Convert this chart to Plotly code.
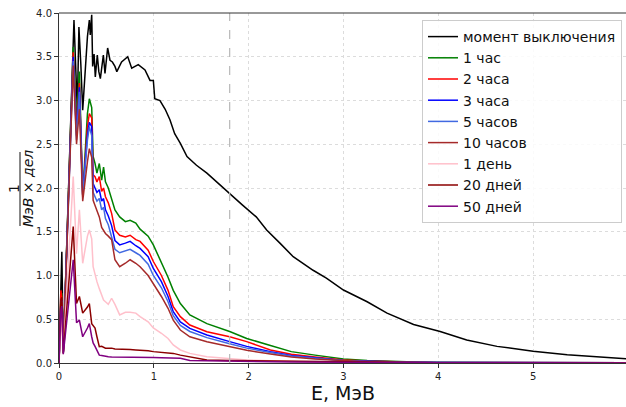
import plotly.graph_objects as go

# ---------------- data ----------------
E_black = [0.00, 0.03, 0.045, 0.158, 0.193, 0.21, 0.23, 0.25, 0.30, 0.32, 0.33, 0.345, 0.355,
           0.37, 0.383, 0.404, 0.42, 0.436, 0.468, 0.485, 0.513, 0.538, 0.563, 0.59, 0.61,
           0.66, 0.725, 0.767, 0.836, 0.907, 0.96, 0.995, 1.01, 1.065, 1.12, 1.17, 1.22,
           1.28, 1.35, 1.45, 1.56, 1.66, 1.80, 1.93, 2.08, 2.19, 2.33, 2.47, 2.68, 2.82,
           3.00, 3.25, 3.46, 3.74, 4.02, 4.30, 4.62, 5.00, 5.36, 5.67, 6.00]
v_shutdown = [0.05, 1.27, 0.12, 3.92, 2.89, 3.84, 3.42, 2.89, 3.73, 3.92, 3.75, 3.98, 3.39,
              3.53, 3.27, 3.52, 3.33, 3.25, 3.52, 3.31, 3.60, 3.46, 3.44, 3.39, 3.33,
              3.44, 3.50, 3.37, 3.41, 3.35, 3.23, 3.23, 3.02, 3.00, 2.90, 2.78, 2.62,
              2.51, 2.36, 2.26, 2.17, 2.07, 1.94, 1.81, 1.67, 1.52, 1.37, 1.215, 1.06, 0.97,
              0.834, 0.70, 0.57, 0.44, 0.36, 0.263, 0.19, 0.135, 0.095, 0.068, 0.046]

E = [0.00, 0.02, 0.03, 0.045, 0.15, 0.185, 0.215, 0.25, 0.30, 0.32, 0.345, 0.36, 0.38, 0.40,
     0.425, 0.45, 0.47, 0.49, 0.52, 0.555, 0.59, 0.64, 0.70, 0.75, 0.81, 0.855, 0.94, 0.995,
     1.08, 1.15, 1.205, 1.28, 1.38, 1.56, 1.80, 1.98, 2.23, 2.45, 2.70, 3.00, 3.25, 3.50,
     3.75, 4.00, 5.00, 6.00]

v_1h = [0.0, 0.75, 0.80, 0.12, 3.61, 2.75, 3.33, 1.92, 2.85, 3.02, 2.92, 2.36, 2.28, 2.17,
        2.28, 2.09, 2.24, 2.07, 2.00, 1.86, 1.75, 1.67, 1.615, 1.63, 1.60, 1.53, 1.45, 1.35,
        1.15, 0.98, 0.83, 0.68, 0.55, 0.45, 0.36, 0.28, 0.20, 0.13, 0.09, 0.045, 0.03, 0.018,
        0.012, 0.008, 0.004, 0.002]
v_2h = [0.0, 0.83, 0.75, 0.12, 3.55, 2.65, 3.20, 1.90, 2.70, 2.85, 2.80, 2.15, 2.13, 2.07,
        2.13, 1.96, 2.00, 1.90, 1.83, 1.71, 1.52, 1.46, 1.44, 1.46, 1.41, 1.39, 1.29, 1.16,
        1.00, 0.83, 0.643, 0.53, 0.434, 0.358, 0.30, 0.244, 0.149, 0.10, 0.07, 0.035, 0.022,
        0.014, 0.010, 0.007, 0.003, 0.002]
v_3h = [0.0, 0.70, 0.72, 0.12, 3.50, 2.60, 3.15, 1.92, 2.60, 2.75, 2.70, 2.05, 2.00, 1.95,
        1.98, 1.85, 1.88, 1.75, 1.68, 1.57, 1.40, 1.35, 1.37, 1.39, 1.34, 1.31, 1.215, 1.08,
        0.93, 0.76, 0.586, 0.47, 0.396, 0.32, 0.244, 0.19, 0.13, 0.085, 0.06, 0.03, 0.02,
        0.012, 0.008, 0.006, 0.003, 0.002]
v_5h = [0.0, 0.70, 0.70, 0.12, 3.45, 2.55, 3.10, 1.93, 2.55, 2.70, 2.60, 1.95, 1.90, 1.85,
        1.88, 1.75, 1.78, 1.65, 1.58, 1.45, 1.30, 1.26, 1.28, 1.30, 1.26, 1.23, 1.13, 1.00,
        0.86, 0.70, 0.54, 0.43, 0.36, 0.29, 0.22, 0.17, 0.12, 0.08, 0.055, 0.028, 0.018,
        0.011, 0.007, 0.005, 0.003, 0.002]
v_10h = [0.0, 0.65, 0.70, 0.12, 3.40, 2.50, 2.90, 1.85, 2.30, 2.45, 2.35, 1.86, 1.80, 1.75,
         1.67, 1.55, 1.52, 1.48, 1.45, 1.41, 1.18, 1.10, 1.14, 1.18, 1.14, 1.10, 1.00, 0.91,
         0.76, 0.625, 0.49, 0.377, 0.30, 0.244, 0.186, 0.145, 0.103, 0.07, 0.045, 0.025,
         0.015, 0.010, 0.006, 0.004, 0.002, 0.001]
v_1d = [0.0, 0.50, 0.55, 0.10, 2.13, 1.25, 1.75, 1.14, 1.45, 1.52, 1.42, 1.10, 1.00, 0.93,
        0.85, 0.78, 0.72, 0.70, 0.67, 0.74, 0.67, 0.55, 0.58, 0.58, 0.57, 0.53, 0.47, 0.40,
        0.34, 0.28, 0.206, 0.149, 0.11, 0.072, 0.05, 0.035, 0.025, 0.015, 0.01, 0.006,
        0.004, 0.003, 0.002, 0.001, 0.001, 0.001]
v_20d = [0.0, 0.72, 0.75, 0.11, 1.56, 0.68, 0.76, 0.57, 0.64, 0.68, 0.45, 0.43, 0.40, 0.30,
         0.186, 0.19, 0.18, 0.17, 0.17, 0.17, 0.16, 0.16, 0.155, 0.155, 0.15, 0.149, 0.14,
         0.13, 0.12, 0.11, 0.11, 0.09, 0.072, 0.034, 0.03, 0.028, 0.025, 0.02, 0.015, 0.01,
         0.008, 0.006, 0.005, 0.004, 0.002, 0.001]
v_50d = [0.0, 0.60, 0.65, 0.10, 1.18, 0.46, 0.49, 0.30, 0.40, 0.45, 0.30, 0.23, 0.19, 0.149,
         0.09, 0.085, 0.08, 0.075, 0.072, 0.07, 0.07, 0.068, 0.066, 0.065, 0.064, 0.063,
         0.063, 0.062, 0.061, 0.06, 0.058, 0.055, 0.03, 0.025, 0.022, 0.02, 0.015, 0.012,
         0.01, 0.008, 0.006, 0.005, 0.004, 0.003, 0.002, 0.001]

labels = ["момент выключения", "1 час", "2 часа", "3 часа", "5 часов", "10 часов",
          "1 день", "20 дней", "50 дней"]
colors = ["black", "green", "red", "blue", "royalblue", "brown", "pink", "darkred", "purple"]
series = [v_shutdown, v_1h, v_2h, v_3h, v_5h, v_10h, v_1d, v_20d, v_50d]
x_values = [E_black] + [E] * 8

E_marker = 1.8
x_ticks = [0, 1, 2, 3, 4, 5]
y_ticks = [0.0, 0.5, 1.0, 1.5, 2.0, 2.5, 3.0, 3.5, 4.0]

# ---------------- figure ----------------
W, H = 626, 407
ML, MR, MT, MB = 59, 0, 13, 44
pw, ph = W - ML - MR, H - MT - MB

def px_x(p):
    return (p - ML) / pw

def px_y(p):
    return (H - MB - p) / ph

fig = go.Figure()
for xs, ys, name, col in zip(x_values, series, labels, colors):
    fig.add_trace(go.Scatter(x=xs, y=ys, mode="lines", name=name,
                             line=dict(color=col, width=1.5)))

fig.add_vline(x=E_marker, line=dict(color="#b8b8b8", width=1.2, dash="dash"))

font = "DejaVu Sans"
fig.update_layout(
    width=W, height=H,
    margin=dict(l=ML, r=MR, t=MT, b=MB),
    plot_bgcolor="white", paper_bgcolor="white",
    font=dict(family=font, color="#222", size=10),
    showlegend=True,
    legend=dict(x=px_x(622), xanchor="right", y=px_y(20), yanchor="top",
                bgcolor="rgba(255,255,255,0.85)", bordercolor="#cccccc", borderwidth=1,
                font=dict(family=font, size=14, color="#111"), tracegroupgap=0),
    xaxis=dict(range=[0, 5.98], tickvals=x_ticks, ticks="outside", ticklen=4,
               tickcolor="#333", showline=True, linecolor="#333", linewidth=1,
               showgrid=True, gridcolor="#dcdcdc", griddash="dot", gridwidth=1,
               zeroline=False, tickfont=dict(size=10, family=font)),
    yaxis=dict(range=[0, 4], tickvals=y_ticks, tickformat=".1f", ticks="outside",
               ticklen=4, tickcolor="#333", showline=True, linecolor="#333", linewidth=1,
               showgrid=True, gridcolor="#dcdcdc", griddash="dot", gridwidth=1,
               zeroline=False, tickfont=dict(size=10, family=font)),
)

# top spine
fig.add_shape(type="line", xref="paper", yref="paper", x0=0, x1=1, y0=1, y1=1,
              line=dict(color="#333", width=1))

# x-axis title
fig.add_annotation(text="E, МэВ", xref="paper", yref="paper", x=0.5, y=px_y(393),
                   xanchor="center", yanchor="middle", showarrow=False,
                   font=dict(family=font, size=19, color="#111"))

# y-axis title as a rotated fraction
fig.add_annotation(text="1", xref="paper", yref="paper", x=px_x(14), y=px_y(189),
                   xanchor="center", yanchor="middle", showarrow=False, textangle=-90,
                   font=dict(family=font, size=14, color="#111"))
fig.add_shape(type="line", xref="paper", yref="paper", x0=px_x(20), x1=px_x(20),
              y0=px_y(152), y1=px_y(226), line=dict(color="#111", width=1))
fig.add_annotation(text="<i>МэВ × дел</i>", xref="paper", yref="paper", x=px_x(28),
                   y=px_y(189), xanchor="center", yanchor="middle", showarrow=False,
                   textangle=-90, font=dict(family=font, size=14, color="#111"))

fig.write_html("out.html")
